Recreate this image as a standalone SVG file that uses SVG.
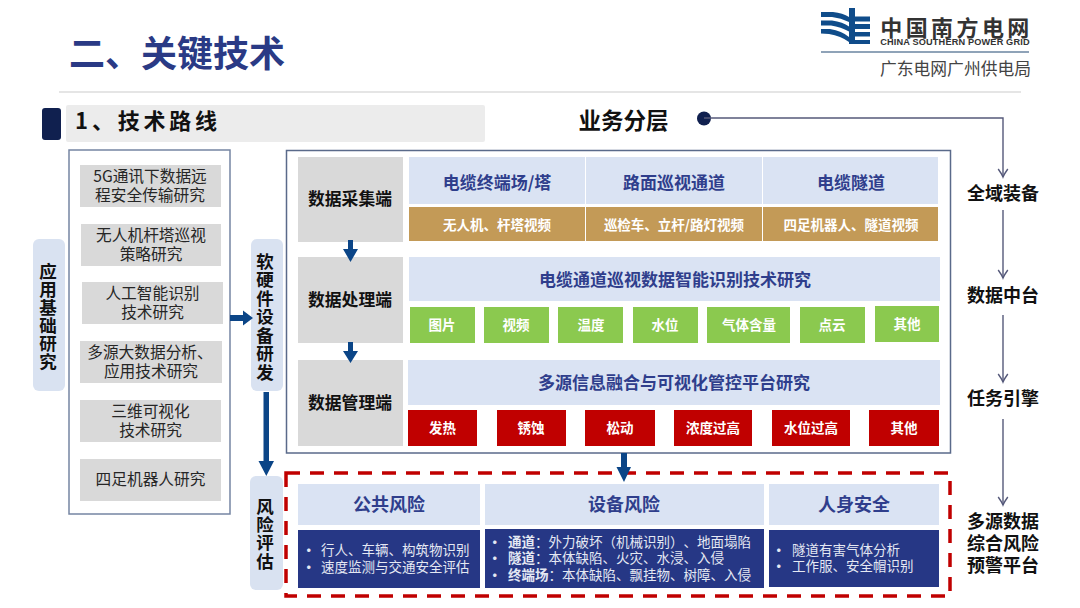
<svg xmlns="http://www.w3.org/2000/svg" width="1080" height="608" viewBox="0 0 1080 608">
<defs>
<marker id="open" markerUnits="userSpaceOnUse" markerWidth="11" markerHeight="12" refX="9" refY="6" orient="auto" viewBox="0 0 11 12"><path d="M1 1.200 C3.500 3 6 4.800 9 6 C6 7.200 3.500 9 1 10.800" fill="none" stroke="#55597a" stroke-width="1.400"/></marker>
</defs>
<style>
text{font-family:"Noto Sans CJK SC","Noto Sans",sans-serif;text-anchor:middle;dominant-baseline:central;text-spacing-trim:space-all;transform:translate(0,-2px)}
.b{font-weight:700}
.pill{fill:#d9e2f1}
.item{fill:#d9d9d9}
.itemt{font-size:15.7px;fill:#262626}
.grayb{fill:#d9d9d9}
.grayt{font-size:16.8px;font-weight:700;fill:#111}
.lb{fill:#dae3f3}
.lbt{font-size:17px;font-weight:700;fill:#2f3e8c}
.tan{fill:#c39a57}
.green{fill:#8bc94f}
.red{fill:#c00000}
.w{font-size:13.5px;font-weight:700;fill:#fff}
.navy{fill:#263785}
.nt{font-size:13.5px;fill:#e4e8f3;text-anchor:start}
.vt{font-size:17.5px;font-weight:700;fill:#111;transform:none;writing-mode:vertical-rl;text-orientation:upright}
.rt{font-size:18px;font-weight:700;fill:#111}
.arr{fill:#0b4587}
.thin{fill:none;stroke:#55597a;stroke-width:1.4}
</style>
<rect width="1080" height="608" fill="#fff"/>
<g id="title">
<text class="b" x="177" y="53" style="font-size:36px;fill:#2a3a85">二、关键技术</text>
<line x1="59" y1="92" x2="1021" y2="92" stroke="#cbcbcb" stroke-width="1"/>
</g>
<g id="logo">
<g fill="#0f4c8a">
<rect x="849" y="8" width="6" height="36"/>
<rect x="855" y="16.500" width="15" height="5"/>
<rect x="855" y="24" width="15" height="5"/>
<rect x="855" y="32" width="15" height="4.500"/>
<rect x="855" y="40" width="15" height="4"/>
<path d="M821 12 L833 12 Q843 13 849 17 L849 22 Q841 18 832 17 L821 17 Z"/>
<path d="M821 20.500 L832 20.500 Q843 22 849 26.500 L849 31.500 Q841 27 831 25.500 L821 25.500 Z"/>
<path d="M821 29 L830 29 Q842 31 849 37 L849 42 Q841 36 829 34 L821 33.500 Z"/>
</g>
<text class="b" x="956.500" y="28" style="font-size:22px;fill:#333;letter-spacing:3.400px">中国南方电网</text>
<text class="b" x="955" y="43.500" style="font-family:'Liberation Sans',sans-serif;font-size:9.200px;fill:#333;letter-spacing:0.150px">CHINA SOUTHERN POWER GRID</text>
<line x1="821" y1="52" x2="1029" y2="52" stroke="#8fa3b8" stroke-width="2"/>
<text x="955.500" y="70" style="font-size:16.800px;fill:#444">广东电网广州供电局</text>
</g>
<g id="section">
<rect x="66" y="105" width="419" height="37" rx="2" fill="#ececec"/>
<rect x="42" y="108" width="19" height="32" rx="3" fill="#10204f"/>
<text class="b" x="148" y="121" style="font-size:22px;fill:#111;letter-spacing:3.800px">1、技术路线</text>
</g>
<g id="basic-research">
<rect class="pill" x="33" y="239" width="32" height="152" rx="6"/>
<text class="vt" x="48" y="316.500" style="letter-spacing:.5px">应用基础研究</text>
</g>
<g id="research-list">
<rect x="69" y="150" width="161" height="364" fill="#fff" stroke="#7585a3" stroke-width="1.500"/>
<rect class="item" x="80" y="165" width="141" height="42"/>
<text class="itemt" x="150" y="177">5G通讯下数据远</text><text class="itemt" x="150" y="196">程安全传输研究</text>
<rect class="item" x="81" y="224" width="140" height="42"/>
<text class="itemt" x="151" y="236.500">无人机杆塔巡视</text><text class="itemt" x="151" y="255">策略研究</text>
<rect class="item" x="82" y="282" width="141" height="42"/>
<text class="itemt" x="152.500" y="294.500">人工智能识别</text><text class="itemt" x="152.500" y="313">技术研究</text>
<rect class="item" x="80" y="341" width="142" height="42"/>
<text class="itemt" x="150" y="353.500">多源大数据分析、</text><text class="itemt" x="151" y="372">应用技术研究</text>
<rect class="item" x="80" y="400" width="141" height="42"/>
<text class="itemt" x="150.500" y="412.500">三维可视化</text><text class="itemt" x="150.500" y="431.500">技术研究</text>
<rect class="item" x="80" y="459" width="141" height="42"/>
<text class="itemt" x="150.500" y="480.500">四足机器人研究</text>
</g>
<g id="hardware-research">
<rect class="pill" x="251" y="239" width="32" height="152" rx="6"/>
<text class="vt" x="265" y="317" style="letter-spacing:1px">软硬件设备研发</text>
</g>
<g id="risk-assess">
<rect class="pill" x="250" y="476" width="33" height="114" rx="6"/>
<text class="vt" x="265" y="534" style="letter-spacing:.8px">风险评估</text>
</g>
<g id="platform">
<rect x="286.500" y="150.500" width="664" height="302.500" fill="#fff" stroke="#5a6a8a" stroke-width="1.500"/>
</g>
<g id="collect">
<rect class="grayb" x="298" y="157" width="105" height="85"/>
<text class="grayt" x="350" y="200">数据采集端</text>
<rect class="lb" x="409" y="157" width="176" height="47"/><rect class="lb" x="586" y="157" width="176" height="47"/><rect class="lb" x="763" y="157" width="175" height="47"/>
<text class="lbt" x="497" y="183">电缆终端场/塔</text><text class="lbt" x="674" y="183">路面巡视通道</text><text class="lbt" x="851" y="183">电缆隧道</text>
<rect class="tan" x="409" y="207" width="176" height="34"/><rect class="tan" x="586" y="207" width="176" height="34"/><rect class="tan" x="763" y="207" width="175" height="34"/>
<text class="w" x="497" y="226">无人机、杆塔视频</text><text class="w" x="674" y="226">巡检车、立杆/路灯视频</text><text class="w" x="851" y="226">四足机器人、隧道视频</text>
</g>
<g id="process">
<rect class="grayb" x="298" y="257" width="105" height="86"/>
<text class="grayt" x="350" y="301">数据处理端</text>
<rect class="lb" x="409" y="257" width="531" height="44"/>
<text class="lbt" x="675" y="280">电缆通道巡视数据智能识别技术研究</text>
<rect class="green" x="410" y="307" width="65" height="36"/><rect class="green" x="484" y="307" width="65" height="36"/><rect class="green" x="558" y="307" width="65" height="36"/><rect class="green" x="633" y="307" width="65" height="36"/><rect class="green" x="707" y="307" width="83" height="36"/><rect class="green" x="800" y="307" width="65" height="36"/><rect class="green" x="875" y="306" width="64" height="36"/>
<text class="w" x="442" y="326">图片</text><text class="w" x="516" y="326">视频</text><text class="w" x="591" y="326">温度</text><text class="w" x="665" y="326">水位</text><text class="w" x="749" y="326">气体含量</text><text class="w" x="832" y="326">点云</text><text class="w" x="907" y="325">其他</text>
</g>
<g id="manage">
<rect class="grayb" x="298" y="360" width="105" height="86"/>
<text class="grayt" x="350" y="404">数据管理端</text>
<rect class="lb" x="408" y="360" width="532" height="45"/>
<text class="lbt" x="674" y="383">多源信息融合与可视化管控平台研究</text>
<rect class="red" x="408" y="410" width="69" height="36"/><rect class="red" x="497" y="410" width="69" height="36"/><rect class="red" x="585" y="410" width="70" height="36"/><rect class="red" x="674" y="410" width="78" height="36"/><rect class="red" x="772" y="410" width="78" height="36"/><rect class="red" x="869" y="410" width="70" height="36"/>
<text class="w" x="442.500" y="429">发热</text><text class="w" x="531" y="429">锈蚀</text><text class="w" x="620" y="429">松动</text><text class="w" x="713" y="429">浓度过高</text><text class="w" x="811" y="429">水位过高</text><text class="w" x="904" y="429">其他</text>
</g>
<g id="risk-frame">
<rect x="286" y="473" width="664" height="123" fill="none" stroke="#c00000" stroke-width="3.500" stroke-dasharray="14 10"/>
</g>
<g id="risk-public">
<rect class="lb" x="298" y="484" width="182" height="41"/>
<text class="lbt" x="389" y="505" style="font-size:18px">公共风险</text>
<rect class="navy" x="298" y="530" width="182" height="58"/>
<text class="nt b" x="302" y="551">•</text><text class="nt" x="321" y="551">行人、车辆、构筑物识别</text>
<text class="nt b" x="302" y="568">•</text><text class="nt" x="321" y="568">速度监测与交通安全评估</text>
</g>
<g id="risk-device">
<rect class="lb" x="485" y="484" width="279" height="41"/>
<text class="lbt" x="624" y="505" style="font-size:18px">设备风险</text>
<rect class="navy" x="485" y="529" width="279" height="59"/>
<text class="nt b" x="488" y="543">•</text><text class="nt" x="508" y="543"><tspan font-weight="700">通道</tspan>：外力破坏（机械识别）、地面塌陷</text>
<text class="nt b" x="488" y="559">•</text><text class="nt" x="508" y="559"><tspan font-weight="700">隧道</tspan>：本体缺陷、火灾、水浸、入侵</text>
<text class="nt b" x="488" y="576">•</text><text class="nt" x="508" y="576"><tspan font-weight="700">终端场</tspan>：本体缺陷、飘挂物、树障、入侵</text>
</g>
<g id="risk-person">
<rect class="lb" x="769" y="484" width="170" height="41"/>
<text class="lbt" x="854" y="505" style="font-size:18px">人身安全</text>
<rect class="navy" x="769" y="530" width="170" height="57"/>
<text class="nt b" x="772" y="551">•</text><text class="nt" x="792" y="551">隧道有害气体分析</text>
<text class="nt b" x="772" y="567">•</text><text class="nt" x="792" y="567">工作服、安全帽识别</text>
</g>
<g id="layers">
<text class="b" x="623.500" y="121" style="font-size:22.500px;fill:#111">业务分层</text>
<text class="rt" x="1003" y="193.500">全域装备</text>
<text class="rt" x="1003" y="295.500">数据中台</text>
<text class="rt" x="1003" y="398.500">任务引擎</text>
<text class="rt" x="1003" y="521.500">多源数据</text>
<text class="rt" x="1003" y="543.500">综合风险</text>
<text class="rt" x="1003" y="565.500">预警平台</text>
</g>
<g id="connectors">
<path class="arr" d="M230 315 H243 V310.500 L253 318 L243 325.500 V321 H230 Z"/>
<path class="arr" d="M263.500 392 H269 V461 H274 L266.300 476 L258.500 461 H263.500 Z"/>
<path class="arr" d="M348 240 H353 V249 H358 L350.500 262 L343 249 H348 Z"/>
<path class="arr" d="M348 342 H353 V351 H358 L350.500 363 L343 351 H348 Z"/>
<path class="arr" d="M621 453 H627 V467 H631 L624 482 L616.500 467 H621 Z"/>
<circle cx="704" cy="118.500" r="7" fill="#10204f"/>
<path class="thin" d="M704 118 H1003 V177" marker-end="url(#open)"/>
<path class="thin" d="M1003 210 V278" marker-end="url(#open)"/>
<path class="thin" d="M1003 315 V382" marker-end="url(#open)"/>
<path class="thin" d="M1003 419 V505" marker-end="url(#open)"/>
</g>
</svg>
